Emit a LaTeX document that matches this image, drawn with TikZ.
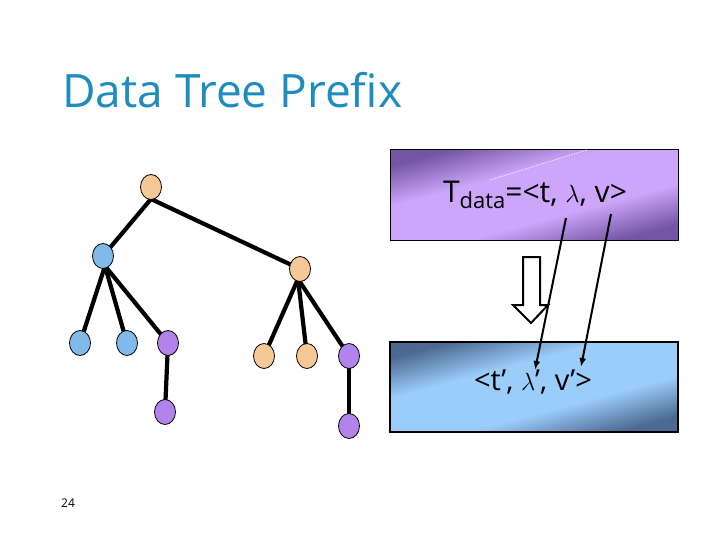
\documentclass[tikz,border=0pt]{standalone}
\usepackage{fontspec}
\setmainfont{Open Sans}
\usetikzlibrary{arrows.meta,shapes.geometric}
\definecolor{titleblue}{RGB}{30,140,190}
\definecolor{orangenode}{RGB}{245,200,150}
\definecolor{bluenode}{RGB}{130,185,235}
\definecolor{purplenode}{RGB}{180,130,235}
\definecolor{pdark}{RGB}{115,85,165}
\definecolor{plight}{RGB}{205,165,250}
\definecolor{bdark}{RGB}{75,105,145}
\definecolor{blight}{RGB}{155,205,250}
\pgfdeclareverticalshading{pshade}{100bp}{color(0bp)=(pdark); color(25bp)=(pdark); color(40bp)=(plight); color(60bp)=(plight); color(75bp)=(pdark); color(100bp)=(pdark)}
\pgfdeclareverticalshading{bshade}{100bp}{color(0bp)=(bdark); color(25bp)=(bdark); color(40bp)=(blight); color(60bp)=(blight); color(75bp)=(bdark); color(100bp)=(bdark)}
\tikzset{
  tn/.style={ellipse,draw=black,line width=0.8pt,minimum width=21pt,minimum height=25pt,inner sep=0pt},
  on/.style={tn,fill=orangenode},
  bn/.style={tn,fill=bluenode},
  pn/.style={tn,fill=purplenode},
  edge/.style={line width=4.2pt,black},
  ptr/.style={line width=2pt,-{Latex[length=9pt,width=7pt]}},
  boxtext/.style={font=\fontsize{30}{32}\selectfont,inner sep=0pt}
}
\begin{document}
\begin{tikzpicture}[x=1pt,y=-1pt]
\useasboundingbox (0,0) rectangle (720,540);
\fill[white] (0,0) rectangle (720,540);
% title
\node[anchor=base west,text=titleblue,font=\fontsize{46}{50}\selectfont,inner sep=0pt] (title) at (62,108) {Data Tree Prefix};
% page number
\node[font=\fontsize{12}{14}\selectfont,inner sep=0pt] (pg) at (68,503) {24};
% tree edges
\coordinate (r) at (151,187);
\coordinate (b1) at (103,256);
\coordinate (o1) at (300,269);
\coordinate (l1) at (80,343);
\coordinate (l2) at (127,343);
\coordinate (l3) at (168,343);
\coordinate (l4) at (264,356);
\coordinate (l5) at (307,356);
\coordinate (l6) at (349,356);
\coordinate (l7) at (165,412);
\coordinate (l8) at (349,426);
\draw[edge] (151,199) -- (103,256);
\draw[edge] (151,199) -- (300,269);
\draw[edge] (105,266) -- (80,343);
\draw[edge] (105,266) -- (127,343);
\draw[edge] (105,266) -- (168,343);
\draw[edge] (298,279) -- (264,356);
\draw[edge] (298,279) -- (307,356);
\draw[edge] (298,279) -- (349,356);
\draw[edge] (168,343) -- (165,412);
\draw[edge] (349,356) -- (349,426);
% tree nodes
\node[on] (nr) at (r) {};
\node[bn] (nb1) at (b1) {};
\node[on] (no1) at (o1) {};
\node[bn] (nl1) at (l1) {};
\node[bn] (nl2) at (l2) {};
\node[pn] (nl3) at (l3) {};
\node[on] (nl4) at (l4) {};
\node[on] (nl5) at (l5) {};
\node[pn] (nl6) at (l6) {};
\node[pn] (nl7) at (l7) {};
\node[pn] (nl8) at (l8) {};
% top box
\shade[shading=pshade,shading angle=15] (390,150) rectangle (678,240);
\draw[line width=1pt] (390,150) rectangle (678,240);
\draw[white,densely dotted,line width=0.8pt] (490,180) -- (587,150);
\node[boxtext,anchor=base] (tdata) at (535,203) {T\raisebox{-6pt}{\fontsize{22}{24}\selectfont data}=<t, $\lambda$, v>};
% bottom box
\shade[shading=bshade,shading angle=15] (390,342) rectangle (678,432);
\draw[line width=2.5pt] (390,342) rectangle (678,432);
\node[boxtext,anchor=base,font=\fontsize{29}{31}\selectfont] (tprime) at (533,390) {<t', $\lambda$', v'>};
% hollow arrow
\draw[line width=2pt,fill=white] (523,257) -- (540,257) -- (540,305) -- (548,305) -- (531,323) -- (513,305) -- (523,305) -- cycle;
% pointer arrows
\coordinate (lamtop) at (566,218);
\coordinate (lamend) at (535,370);
\coordinate (vtop) at (611,214);
\coordinate (vend) at (581,367);
\draw[ptr] (lamtop) -- (lamend);
\draw[ptr] (vtop) -- (vend);
\end{tikzpicture}
\end{document}
